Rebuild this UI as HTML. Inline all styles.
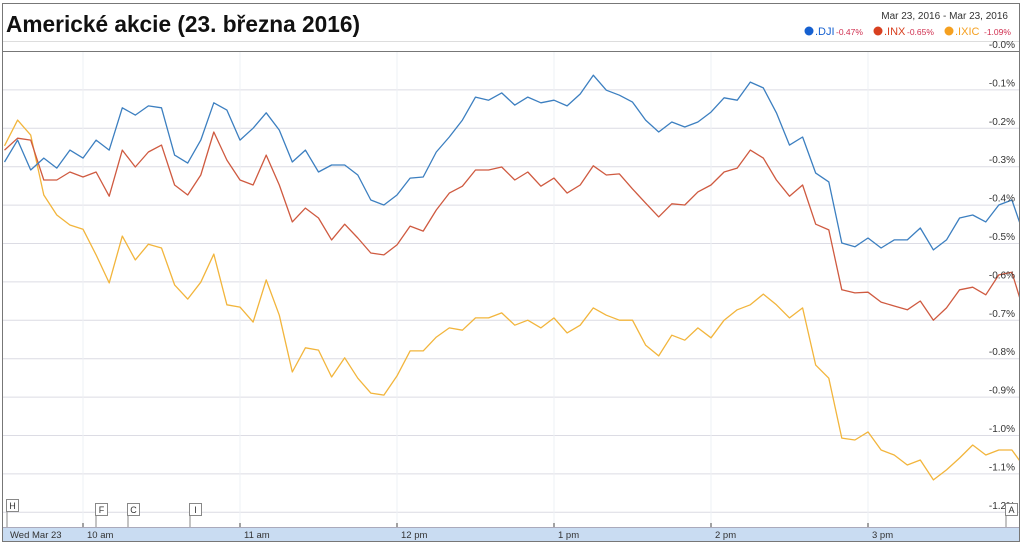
<!DOCTYPE html>
<html><head><meta charset="utf-8"><style>
html,body{margin:0;padding:0;background:#fff;}
svg{display:block;font-family:"Liberation Sans",sans-serif;}
</style></head><body>
<svg id="chart" width="1024" height="546" viewBox="0 0 1024 546" xmlns="http://www.w3.org/2000/svg">
<rect x="0" y="0" width="1024" height="546" fill="#fff"/>
<rect x="2.5" y="3.5" width="1017" height="538" fill="none" stroke="#777"/>
<text x="6" y="32" font-size="23" font-weight="bold" fill="#111" textLength="354" lengthAdjust="spacingAndGlyphs">Americké akcie (23. března 2016)</text>
<text x="1008" y="19" font-size="10" fill="#333" text-anchor="end">Mar 23, 2016  -  Mar 23, 2016</text>
<g font-size="10">
<circle cx="809" cy="31" r="4.5" fill="#1560d0"/>
<text x="815" y="35" fill="#1560d0" font-size="11">.DJI</text>
<text x="836" y="35" fill="#d03050" font-size="8.5">-0.47%</text>
<circle cx="878" cy="31" r="4.5" fill="#d84020"/>
<text x="884" y="35" fill="#d84020" font-size="11">.INX</text>
<text x="907" y="35" fill="#d03050" font-size="8.5">-0.65%</text>
<circle cx="949" cy="31" r="4.5" fill="#f5a020"/>
<text x="955" y="35" fill="#f5a020" font-size="11">.IXIC</text>
<text x="984" y="35" fill="#d03050" font-size="8.5">-1.09%</text>
</g>
<line x1="3" y1="41.5" x2="1019" y2="41.5" stroke="#ddd"/>
<line x1="3" y1="51.5" x2="1019" y2="51.5" stroke="#777"/>
<g id="grid"></g>
<g id="series"></g>
<g id="yaxis" font-size="10" fill="#333"></g>
<rect x="3" y="527" width="1016" height="14" fill="#c9dcf2"/>
<line x1="3" y1="527.5" x2="1019" y2="527.5" stroke="#aab"/>
<g id="xaxis" font-size="9.5" fill="#333"></g>
<g id="flags" font-size="9" fill="#333"></g>
</svg>
<script>
const tickMinutes=[30,90,150,210,270,330];
const tickLabels=["10 am","11 am","12 pm","1 pm","2 pm","3 pm"];
const yTicks=[0,-0.1,-0.2,-0.3,-0.4,-0.5,-0.6,-0.7,-0.8,-0.9,-1.0,-1.1,-1.2];
const yTickLabels=["-0.0%","-0.1%","-0.2%","-0.3%","-0.4%","-0.5%","-0.6%","-0.7%","-0.8%","-0.9%","-1.0%","-1.1%","-1.2%"];
const stepMinutes=5;
const dji=[-0.289,-0.232,-0.310,-0.279,-0.305,-0.258,-0.279,-0.232,-0.258,-0.148,-0.167,-0.143,-0.148,-0.271,-0.292,-0.232,-0.135,-0.154,-0.232,-0.201,-0.161,-0.206,-0.289,-0.258,-0.315,-0.297,-0.297,-0.323,-0.388,-0.401,-0.375,-0.331,-0.328,-0.263,-0.224,-0.180,-0.120,-0.128,-0.109,-0.141,-0.120,-0.135,-0.128,-0.143,-0.112,-0.063,-0.102,-0.115,-0.133,-0.180,-0.211,-0.185,-0.198,-0.185,-0.159,-0.122,-0.128,-0.081,-0.096,-0.161,-0.245,-0.224,-0.318,-0.341,-0.500,-0.510,-0.487,-0.513,-0.492,-0.492,-0.461,-0.518,-0.492,-0.435,-0.427,-0.445,-0.401,-0.388,-0.487];
const inx=[-0.258,-0.227,-0.232,-0.336,-0.336,-0.315,-0.328,-0.315,-0.378,-0.258,-0.302,-0.263,-0.245,-0.349,-0.375,-0.323,-0.211,-0.284,-0.336,-0.349,-0.271,-0.349,-0.445,-0.409,-0.435,-0.492,-0.451,-0.487,-0.526,-0.531,-0.505,-0.456,-0.469,-0.414,-0.370,-0.352,-0.310,-0.310,-0.302,-0.336,-0.315,-0.352,-0.331,-0.370,-0.349,-0.299,-0.323,-0.320,-0.359,-0.396,-0.432,-0.398,-0.401,-0.367,-0.349,-0.315,-0.305,-0.258,-0.279,-0.336,-0.378,-0.349,-0.451,-0.466,-0.622,-0.630,-0.628,-0.654,-0.664,-0.674,-0.651,-0.701,-0.669,-0.622,-0.615,-0.635,-0.583,-0.576,-0.688];
const ixic=[-0.247,-0.180,-0.219,-0.375,-0.427,-0.453,-0.464,-0.531,-0.604,-0.482,-0.544,-0.503,-0.513,-0.609,-0.646,-0.602,-0.529,-0.661,-0.667,-0.706,-0.596,-0.688,-0.836,-0.773,-0.779,-0.849,-0.799,-0.852,-0.891,-0.896,-0.846,-0.781,-0.781,-0.745,-0.721,-0.727,-0.695,-0.695,-0.682,-0.714,-0.701,-0.721,-0.695,-0.734,-0.714,-0.669,-0.688,-0.701,-0.701,-0.766,-0.794,-0.740,-0.753,-0.721,-0.747,-0.701,-0.674,-0.661,-0.633,-0.661,-0.695,-0.669,-0.818,-0.852,-1.008,-1.013,-0.992,-1.039,-1.052,-1.078,-1.065,-1.117,-1.091,-1.060,-1.026,-1.052,-1.039,-1.039,-1.086];
const NS="http://www.w3.org/2000/svg";
function xs(m){return 4.5+m*157/60;}
function ys(v){return 51-v*384;}
function mk(tag,attrs,parent){const e=document.createElementNS(NS,tag);for(const k in attrs)e.setAttribute(k,attrs[k]);parent.appendChild(e);return e;}
const grid=document.getElementById('grid'),yax=document.getElementById('yaxis'),xax=document.getElementById('xaxis'),ser=document.getElementById('series'),flags=document.getElementById('flags');
yTicks.forEach((v,i)=>{
 if(i>0){const l=mk('line',{x1:3,x2:1019,y1:ys(v)+0.5,y2:ys(v)+0.5,stroke:'#dcdce4'},grid);
 
 }
 const t=mk('text',{x:1015,y:ys(v)-3,'text-anchor':'end'},yax);
 
 
 t.textContent=yTickLabels[i];
});
tickMinutes.forEach((m,i)=>{
 const l=mk('line',{x1:xs(m),x2:xs(m),y1:52,y2:527,stroke:'#eef0f4'},grid);
 
 
 const tk=mk('line',{x1:xs(m),x2:xs(m),y1:523,y2:527,stroke:'#444'},xax);
 
 
 const t=mk('text',{x:xs(m)+4,y:538},xax);
 
 
 t.textContent=tickLabels[i];
});
const d0=mk('text',{x:10,y:538},xax);


d0.textContent='Wed Mar 23';
const defs=mk('clipPath',{id:'clip'},ser);mk('rect',{x:3,y:45,width:1016,height:482},defs);
[[ixic,'#f2b53c','ixic-line'],[inx,'#cf5a40','inx-line'],[dji,'#3c7fc0','dji-line']].forEach(([arr,c,n])=>{
 const pts=arr.map((v,i)=>xs(i*stepMinutes).toFixed(1)+','+ys(v).toFixed(1)).join(' ');
 const p=mk('polyline',{points:pts,fill:'none',stroke:c,'stroke-width':1.3,'clip-path':'url(#clip)','stroke-linejoin':'round'},ser);
 
 
});
[['H',13,500],['F',102,504],['C',134,504],['I',196,504],['A',1012,504]].forEach(([ch,x,y])=>{
 const g=mk('g',{},flags);
 
 
 mk('line',{x1:x-6,x2:x-6,y1:y,y2:527,stroke:'#888'},g);
 mk('rect',{x:x-6.5,y:y-0.5,width:12,height:12,fill:'#fff',stroke:'#888'},g);
 const t=mk('text',{x:x-0.5,y:y+9,'text-anchor':'middle'},g);t.textContent=ch;
});
</script>
</body></html>
